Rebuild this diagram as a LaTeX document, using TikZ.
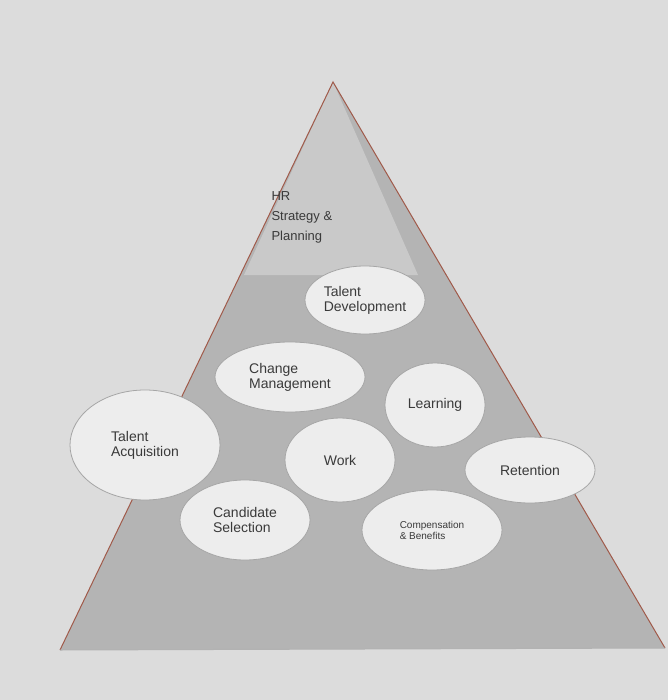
\documentclass[tikz,border=0pt]{standalone}
\usepackage{fontspec}
\setmainfont{Liberation Sans}
\usetikzlibrary{shapes.geometric}
\definecolor{bg}{HTML}{DCDCDC}
\definecolor{tri}{HTML}{B4B4B4}
\definecolor{toptri}{HTML}{C9C9C9}
\definecolor{edge}{HTML}{A05A4A}
\definecolor{ell}{HTML}{EDEDED}
\definecolor{txt}{HTML}{3A3A3A}
\tikzset{oval/.style={ellipse,draw=gray!70,line width=0.8pt,fill=ell,inner sep=0pt,text=txt,font=\fontsize{14}{15}\selectfont,align=left}}
\begin{document}
\begin{tikzpicture}[x=1pt,y=-1pt]
\fill[bg] (0,0) rectangle (668,700);
\useasboundingbox (0,0) rectangle (668,700);
\coordinate (A) at (333,82);
\coordinate (L) at (60,650);
\coordinate (R) at (665,648);
\fill[tri] (A) -- (L) -- (R) -- cycle;
\fill[toptri] (A) -- (244,275) -- (418,275) -- cycle;
\draw[edge,line width=1pt] (L) -- (A) -- (R);
\draw[gray!60,line width=1pt] (L) -- (R);
\node[anchor=north west,align=left,text=txt,font=\fontsize{13}{20}\selectfont] (hr) at (268,188) {HR\\Strategy \&\\Planning};
\node[oval,minimum width=120,minimum height=68] (td) at (365,300) {Talent\\Development};
\node[oval,minimum width=150,minimum height=70] (cm) at (290,377) {Change\\Management};
\node[oval,minimum width=100,minimum height=84] (le) at (435,405) {Learning};
\node[oval,minimum width=150,minimum height=110] (ta) at (145,445) {Talent\\Acquisition};
\node[oval,minimum width=110,minimum height=84] (wo) at (340,460) {Work};
\node[oval,minimum width=130,minimum height=66] (re) at (530,470) {Retention};
\node[oval,minimum width=130,minimum height=80] (cs) at (245,520) {Candidate\\Selection};
\node[oval,minimum width=140,minimum height=80,font=\fontsize{10}{11}\selectfont] (cb) at (432,530) {Compensation\\\& Benefits};
\end{tikzpicture}
\end{document}
